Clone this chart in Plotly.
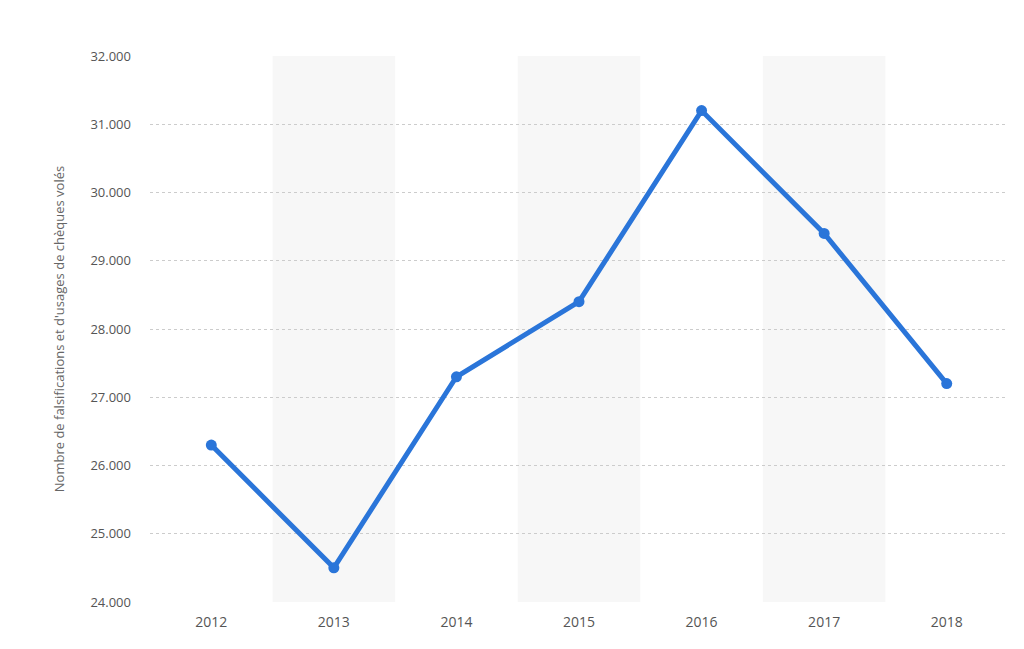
import plotly.graph_objects as go

years = ["2012", "2013", "2014", "2015", "2016", "2017", "2018"]
values = [26300, 24500, 27300, 28400, 31200, 29400, 27200]
labels = ["26.300", "24.500", "27.300", "28.400", "31.200", "29.400", "27.200"]
yticks = [24000, 25000, 26000, 27000, 28000, 29000, 30000, 31000, 32000]
yticktext = ["24.000", "25.000", "26.000", "27.000", "28.000", "29.000", "30.000", "31.000", "32.000"]

fig = go.Figure()
fig.add_trace(go.Scatter(
    x=years, y=values, mode="lines+markers",
    line=dict(color="#2a75d9", width=5), marker=dict(size=11, color="#2a75d9"),
    cliponaxis=False, hoverinfo="skip"))

for xv, yv, t in zip(years, values, labels):
    fig.add_annotation(x=xv, y=yv, text="<b>" + t + "</b>", showarrow=False, yshift=30,
                       font=dict(family="Open Sans", size=15, color="#444444"))

shapes = []
for i in (1, 3, 5):
    shapes.append(dict(type="rect", xref="x", yref="paper", x0=i - 0.5, x1=i + 0.5,
                       y0=0, y1=1, fillcolor="#f7f7f7", line=dict(width=0), layer="below"))

fig.update_layout(
    width=1024, height=649, margin=dict(l=142, r=24, t=48, b=55),
    paper_bgcolor="white", plot_bgcolor="white", showlegend=False, shapes=shapes,
    font=dict(family="Open Sans", color="#666666"),
    xaxis=dict(type="category", range=[-0.5, 6.5], showgrid=False, zeroline=False,
               tickfont=dict(size=14, color="#555555"), ticks="", ticklabelstandoff=10),
    yaxis=dict(range=[24000, 32000], tickvals=yticks, ticktext=yticktext,
               showgrid=True, gridcolor="#cccccc", griddash="dot", zeroline=False,
               tickfont=dict(size=13, color="#555555"), ticklabelstandoff=18,
               title=dict(text="Nombre de falsifications et d'usages de chèques volés",
                          font=dict(size=13, color="#666666"), standoff=22)),
)
fig.write_html("out.html")
